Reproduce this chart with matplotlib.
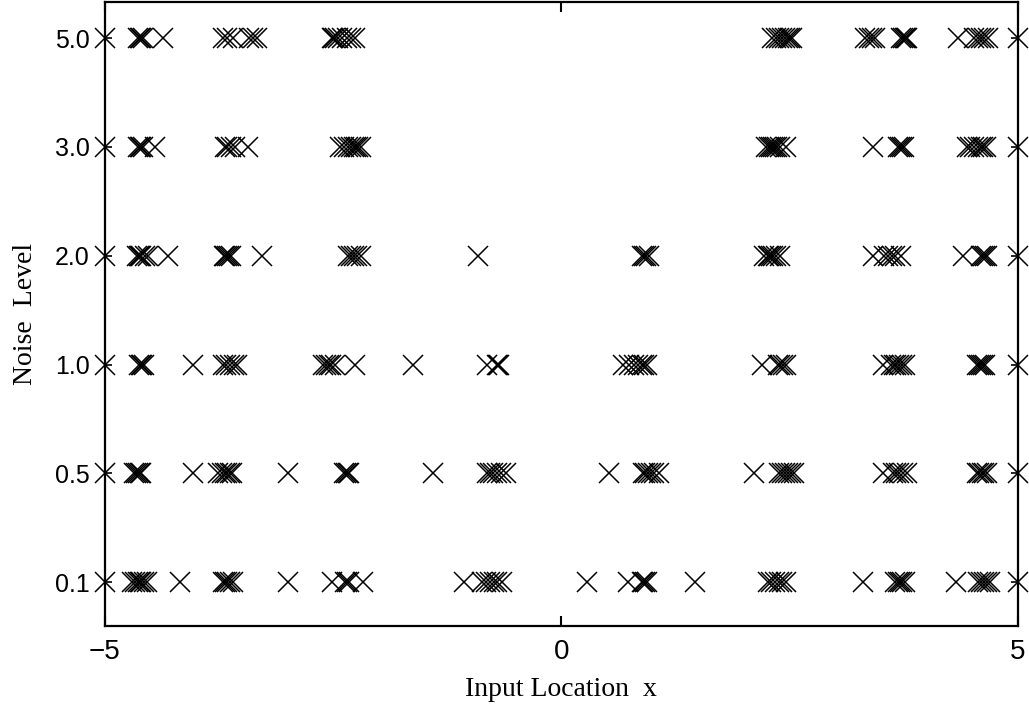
import matplotlib
matplotlib.use("Agg")
import matplotlib.pyplot as plt

# Noise levels shown as evenly spaced rows
noise_levels = ["0.1", "0.5", "1.0", "2.0", "3.0", "5.0"]

# Chosen input locations for each noise level
x_noise_0_1 = [-5, -4.70, -4.67, -4.64, -4.62, -4.60, -4.57, -4.54, -4.18, -3.71, -3.68,
               -3.66, -3.63, -3.60, -2.99, -2.51, -2.37, -2.35, -2.33, -2.17, -1.07, -0.87,
               -0.82, -0.78, -0.74, -0.70, -0.65, 0.28, 0.73, 0.88, 0.90, 0.92, 0.94, 1.47,
               2.26, 2.30, 2.34, 2.38, 2.42, 2.46, 3.30, 3.66, 3.69, 3.71, 3.73, 3.76, 4.32,
               4.57, 4.60, 4.63, 4.66, 4.70, 5]
x_noise_0_5 = [-5, -4.68, -4.66, -4.64, -4.62, -4.61, -4.03, -3.76, -3.72, -3.69, -3.66,
               -3.63, -3.61, -3.00, -2.38, -2.36, -2.34, -2.33, -1.41, -0.81, -0.78, -0.75,
               -0.70, -0.66, -0.61, 0.52, 0.89, 0.92, 0.95, 0.98, 1.02, 1.07, 2.11, 2.38,
               2.42, 2.45, 2.48, 2.52, 2.55, 3.52, 3.63, 3.67, 3.70, 3.74, 3.79, 4.55, 4.58,
               4.61, 4.63, 4.66, 5]
x_noise_1_0 = [-5, -4.63, -4.61, -4.59, -4.57, -4.03, -3.71, -3.67, -3.63, -3.59, -3.55,
               -2.61, -2.58, -2.55, -2.52, -2.48, -2.26, -1.63, -0.81, -0.70, -0.69, -0.68,
               0.68, 0.74, 0.80, 0.84, 0.88, 0.91, 0.94, 2.20, 2.37, 2.40, 2.43, 2.46, 3.52,
               3.61, 3.64, 3.67, 3.70, 3.73, 3.77, 4.55, 4.58, 4.60, 4.62, 4.64, 5]
x_noise_2_0 = [-5, -4.65, -4.63, -4.62, -4.60, -4.56, -4.53, -4.31, -3.70, -3.68, -3.66,
               -3.64, -3.62, -3.28, -2.34, -2.30, -2.27, -2.24, -2.20, -0.91, 0.88, 0.91,
               0.93, 0.96, 2.22, 2.26, 2.28, 2.30, 2.32, 2.35, 2.40, 3.42, 3.53, 3.58, 3.62,
               3.66, 3.72, 4.40, 4.60, 4.62, 4.64, 4.66, 5]
x_noise_3_0 = [-5, -4.64, -4.62, -4.60, -4.58, -4.45, -3.68, -3.66, -3.62, -3.58, -3.43,
               -2.42, -2.38, -2.34, -2.30, -2.27, -2.25, -2.23, -2.20, 2.24, 2.28, 2.30,
               2.32, 2.34, 2.36, 2.40, 2.46, 3.42, 3.69, 3.71, 3.73, 3.75, 4.45, 4.48, 4.52,
               4.56, 4.60, 4.62, 4.65, 5]
x_noise_5_0 = [-5, -4.64, -4.62, -4.60, -4.58, -4.36, -3.71, -3.66, -3.60, -3.42, -3.38,
               -3.33, -2.51, -2.50, -2.48, -2.45, -2.40, -2.35, -2.30, -2.26, 2.31, 2.35,
               2.38, 2.42, 2.45, 2.48, 2.50, 2.53, 3.33, 3.37, 3.40, 3.44, 3.72, 3.74, 3.76,
               3.78, 3.79, 4.35, 4.52, 4.56, 4.60, 4.63, 4.67, 5]

rows = [x_noise_0_1, x_noise_0_5, x_noise_1_0, x_noise_2_0, x_noise_3_0, x_noise_5_0]

x_ticks = [-5, 0, 5]
x_tick_labels = ["\u22125", "0", "5"]

serif = ["Liberation Serif", "DejaVu Serif"]
sans = ["Liberation Sans", "DejaVu Sans"]

fig = plt.figure(figsize=(10.29, 7.08), dpi=100)
ax = fig.add_axes([0.102, 0.1158, 0.887, 0.881])

for i, xs in enumerate(rows):
    ax.plot(xs, [i + 1] * len(xs), linestyle="none", marker="x",
            markersize=14.5, markeredgewidth=1.1, color="black", clip_on=False)

ax.set_xlim(-5, 5)
ax.set_ylim(0.596, 6.33)

ax.set_xticks(x_ticks)
ax.set_xticklabels(x_tick_labels, fontfamily=sans, fontsize=20)
ax.set_yticks(range(1, len(noise_levels) + 1))
ax.set_yticklabels(noise_levels, fontfamily=sans, fontsize=18)

ax.tick_params(axis="x", direction="in", length=7, width=1.5, top=True, pad=9)
ax.tick_params(axis="y", direction="in", length=5, width=1.2, right=True, pad=11)

for spine in ax.spines.values():
    spine.set_linewidth(1.6)

ax.set_xlabel("Input Location  x", fontfamily=serif, fontsize=20, labelpad=9)
ax.set_ylabel("Noise  Level", fontfamily=serif, fontsize=20, labelpad=12)

fig.savefig("out.png", dpi=100)
